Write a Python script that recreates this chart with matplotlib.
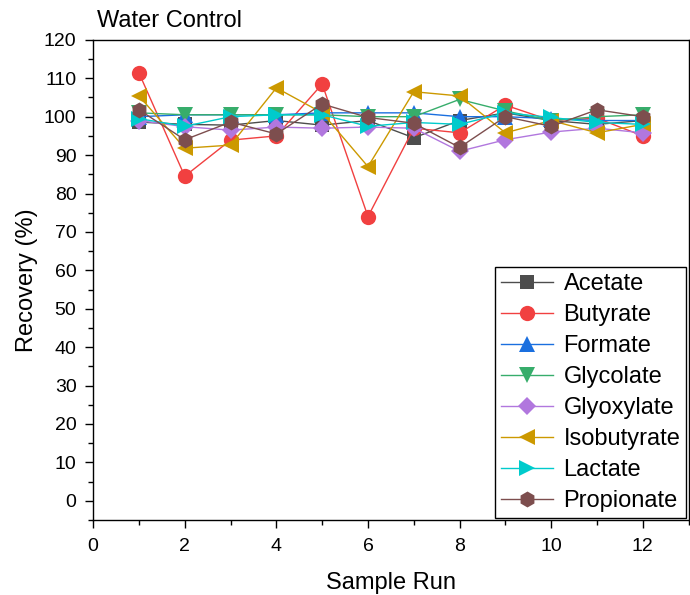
import matplotlib
matplotlib.use("Agg")
import matplotlib.pyplot as plt
from matplotlib.ticker import MultipleLocator

plt.rcParams['font.family'] = ['Liberation Sans', 'DejaVu Sans']

runs = [1, 2, 3, 4, 5, 6, 7, 8, 9, 10, 11, 12]
acetate = [98.6, 98.0, 97.8, 99.0, 97.8, 99.0, 94.5, 99.0, 101.0, 99.0, 98.0, 99.0]
butyrate = [111.4, 84.5, 93.9, 95.0, 108.5, 74.0, 97.0, 95.8, 103.0, 99.0, 99.6, 95.0]
formate = [100.0, 100.5, 100.5, 100.5, 101.0, 101.0, 101.0, 100.0, 100.0, 99.5, 99.0, 99.0]
glycolate = [101.0, 100.5, 100.5, 100.5, 100.5, 100.0, 100.0, 104.5, 101.5, 99.0, 100.0, 100.5]
glyoxylate = [99.0, 97.4, 96.5, 97.3, 97.0, 97.3, 97.0, 91.0, 94.0, 96.0, 97.0, 95.8]
isobutyrate = [105.4, 91.8, 92.6, 107.5, 101.0, 87.0, 106.5, 105.4, 95.8, 99.0, 95.8, 98.0]
lactate = [99.5, 97.5, 100.0, 100.5, 100.5, 97.5, 98.5, 98.0, 101.0, 99.8, 98.5, 98.0]
propionate = [101.8, 94.0, 98.6, 95.5, 103.3, 99.8, 98.3, 92.0, 100.0, 97.5, 101.8, 100.0]

series = [
    ("Acetate", acetate, "#4D4D4D", "s", 10),
    ("Butyrate", butyrate, "#F14040", "o", 11),
    ("Formate", formate, "#1A6FDF", "^", 11),
    ("Glycolate", glycolate, "#37AD6B", "v", 11),
    ("Glyoxylate", glyoxylate, "#B177DE", "D", 9),
    ("Isobutyrate", isobutyrate, "#CC9900", "<", 11),
    ("Lactate", lactate, "#00CBCC", ">", 11),
    ("Propionate", propionate, "#7D4E4E", "h", 11.5),
]

fig = plt.figure(figsize=(6.9, 5.95), dpi=100)
ax = fig.add_axes([0.135, 0.126, 0.863, 0.807])

for name, vals, color, mk, ms in series:
    ax.plot(runs, vals, color=color, marker=mk, markersize=ms, linewidth=1.0,
            label=name, markeredgewidth=0)

ax.set_xlim(0, 13)
ax.set_ylim(-5, 120)
ax.xaxis.set_major_locator(MultipleLocator(2))
ax.xaxis.set_minor_locator(MultipleLocator(1))
ax.yaxis.set_major_locator(MultipleLocator(10))
ax.yaxis.set_minor_locator(MultipleLocator(5))
ax.tick_params(which='major', direction='out', length=6, width=1, labelsize=14)
ax.tick_params(axis='x', which='major', pad=7)
ax.tick_params(axis='y', which='major', pad=6)
ax.tick_params(which='minor', direction='out', length=3.5, width=1)
for s in ax.spines.values():
    s.set_linewidth(1.0)

ax.set_xlabel("Sample Run", fontsize=17, labelpad=12)
ax.set_ylabel("Recovery (%)", fontsize=17, labelpad=4)
ax.set_title("Water Control", fontsize=17, loc='left', x=0.007, pad=9)

leg = ax.legend(loc='lower right', fontsize=17, fancybox=False, edgecolor='black',
                framealpha=1, handlelength=2.2, borderpad=0.25, labelspacing=0.38,
                borderaxespad=0.1, handletextpad=0.45)
leg.get_frame().set_linewidth(1.0)

fig.savefig("out.png", dpi=100)
